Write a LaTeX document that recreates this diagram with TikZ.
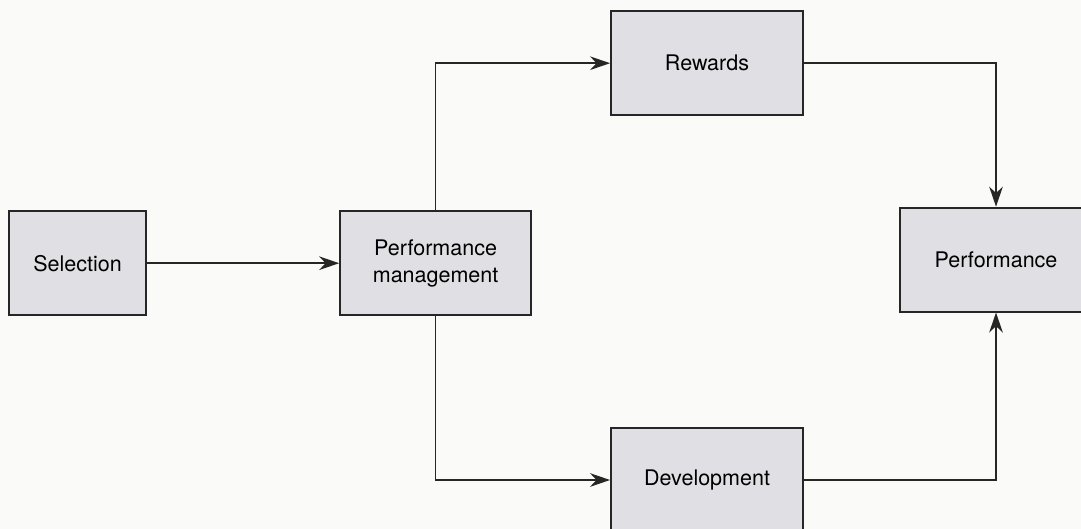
\documentclass[tikz,border=0pt]{standalone}
\usepackage{fontspec}
\setmainfont{TeX Gyre Heros}
\usetikzlibrary{arrows.meta,positioning,calc}
\definecolor{paper}{RGB}{250,250,248}
\definecolor{boxgray}{RGB}{224,224,228}
\tikzset{
  hrbox/.style={draw=black!85, line width=1.3pt, fill=boxgray, align=center,
    font=\fontsize{15.3}{19.2}\selectfont, minimum width=4.8cm, minimum height=2.6cm,
    inner sep=0pt},
  hrarrow/.style={-{Stealth[length=5mm, width=3.4mm, inset=1.6mm]}, line width=1.2pt, draw=black!85}
}

\begin{document}
\begin{tikzpicture}
  \fill[paper] (0,0) rectangle (27.025,-13.225);
  \useasboundingbox (0,0) rectangle (27.025,-13.225);
  \node[hrbox, minimum width=3.425cm] (sel) at (1.94,-6.58) {Selection};
  \node[hrbox, minimum width=4.775cm] (pm) at (10.89,-6.58) {Performance\\management};
  \node[hrbox] (rew) at (17.675,-1.58) {Rewards};
  \node[hrbox] (dev) at (17.675,-12.0) {Development};
  \node[hrbox] (perf) at (24.9,-6.49) {Performance};
  \draw[hrarrow] (sel) -- (pm);
  \draw[hrarrow] (pm.north) |- (rew.west);
  \draw[hrarrow] (pm.south) |- (dev.west);
  \draw[hrarrow] (rew.east) -| (perf.north);
  \draw[hrarrow] (dev.east) -| (perf.south);
\end{tikzpicture}
\end{document}
